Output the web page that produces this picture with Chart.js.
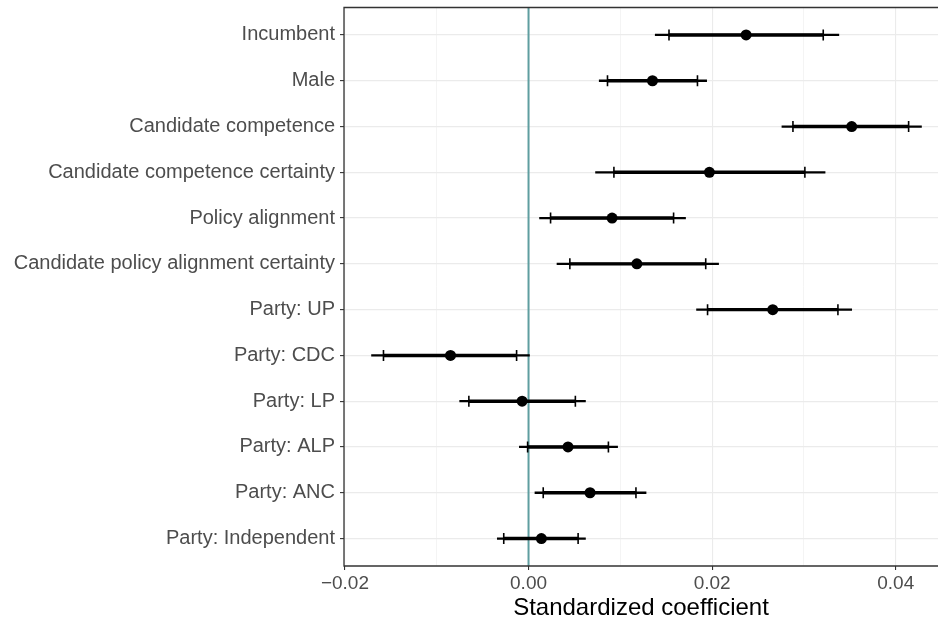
<!DOCTYPE html>
<html>
<head>
<meta charset="utf-8">
<script src="https://cdn.jsdelivr.net/npm/chart.js@4.4.1/dist/chart.umd.min.js"></script>
<style>
  html, body { margin: 0; padding: 0; background: #fff; overflow: hidden; }
  #wrap { width: 938px; height: 625px; }
</style>
</head>
<body>
<div id="wrap"><canvas id="coefPlot"></canvas></div>
<script>
const terms = [
  'Incumbent', 'Male', 'Candidate competence', 'Candidate competence certainty',
  'Policy alignment', 'Candidate policy alignment certainty', 'Party: UP',
  'Party: CDC', 'Party: LP', 'Party: ALP', 'Party: ANC', 'Party: Independent'
];
const estimate = [0.0237, 0.0135, 0.0352, 0.0197, 0.0091, 0.0118, 0.0266, -0.0085, -0.0007, 0.0043, 0.0067, 0.0014];
const inner_lo = [0.0153, 0.0086, 0.0288, 0.0093, 0.0024, 0.0045, 0.0195, -0.0158, -0.0065, -0.0001, 0.0016, -0.0027];
const inner_hi = [0.0321, 0.0184, 0.0414, 0.0301, 0.0158, 0.0193, 0.0337, -0.0013, 0.0051, 0.0087, 0.0117, 0.0054];
const outer_lo = [0.0138, 0.0077, 0.0276, 0.0073, 0.0012, 0.0031, 0.0183, -0.0171, -0.0075, -0.0010, 0.0007, -0.0034];
const outer_hi = [0.0338, 0.0194, 0.0428, 0.0323, 0.0171, 0.0207, 0.0352, 0.0001, 0.0062, 0.0097, 0.0128, 0.0062];
const xTicks = [-0.02, -0.01, 0.00, 0.01, 0.02, 0.03, 0.04];
const refValue = 0;

const idx = terms.map((t, i) => i);

// zero reference line + panel border (top and left; right edge is cut off)
const panelPlugin = {
  id: 'panel',
  beforeDatasetsDraw(chart) {
    const { ctx, chartArea, scales } = chart;
    const x0 = scales.x.getPixelForValue(refValue);
    ctx.save();
    ctx.strokeStyle = '#5F9EA0';
    ctx.lineWidth = 2;
    ctx.beginPath();
    ctx.moveTo(x0, chartArea.top);
    ctx.lineTo(x0, chartArea.bottom);
    ctx.stroke();
    ctx.restore();
  },
  afterDraw(chart) {
    const { ctx, chartArea } = chart;
    ctx.save();
    ctx.strokeStyle = '#333333';
    ctx.lineWidth = 1.3;
    ctx.beginPath();
    ctx.moveTo(chartArea.right + 2, chartArea.top);
    ctx.lineTo(chartArea.left, chartArea.top);
    ctx.lineTo(chartArea.left, chartArea.bottom);
    ctx.lineTo(chartArea.right + 2, chartArea.bottom);
    ctx.stroke();
    ctx.restore();
  }
};

new Chart(document.getElementById('coefPlot'), {
  type: 'bar',
  data: {
    datasets: [
      {
        type: 'bar',
        data: idx.map(i => ({ x: [outer_lo[i], outer_hi[i]], y: i })),
        backgroundColor: '#000',
        barThickness: 1.6,
        grouped: false,
        order: 3
      },
      {
        type: 'bar',
        data: idx.map(i => ({ x: [inner_lo[i], inner_hi[i]], y: i })),
        backgroundColor: '#000',
        barThickness: 2.8,
        grouped: false,
        order: 2
      },
      {
        type: 'scatter',
        data: idx.flatMap(i => [{ x: inner_lo[i], y: i }, { x: inner_hi[i], y: i }]),
        pointStyle: 'line',
        rotation: 90,
        radius: 5.5,
        borderColor: '#000',
        borderWidth: 1.6,
        hoverRadius: 5.5,
        order: 1
      },
      {
        type: 'scatter',
        data: idx.map(i => ({ x: estimate[i], y: i })),
        pointStyle: 'circle',
        radius: 5.5,
        backgroundColor: '#000',
        borderColor: '#000',
        borderWidth: 0,
        hoverRadius: 5.5,
        order: 0
      }
    ]
  },
  options: {
    indexAxis: 'y',
    responsive: true,
    maintainAspectRatio: false,
    animation: false,
    layout: { autoPadding: false, padding: { left: 0, right: 0, top: 7.5, bottom: 0 } },
    plugins: {
      legend: { display: false },
      tooltip: { enabled: false }
    },
    scales: {
      x: {
        type: 'linear',
        min: -0.0201,
        max: 0.0446,
        afterBuildTicks(scale) {
          scale.ticks = xTicks.map(v => ({ value: v }));
        },
        afterFit(scale) {
          scale.height = 59;
          scale.paddingLeft = 0;
          scale.paddingRight = 0;
        },
        grid: {
          color: '#EBEBEB',
          lineWidth: ctx => (Math.round(ctx.tick.value * 100) % 2 === 0 ? 1.1 : 0.55),
          tickColor: ctx => (Math.round(ctx.tick.value * 100) % 2 === 0 ? '#333333' : 'rgba(0,0,0,0)'),
          tickLength: 4,
          tickWidth: 1.1
        },
        border: { display: false },
        ticks: {
          autoSkip: false,
          maxRotation: 0,
          padding: 2,
          color: '#4D4D4D',
          font: { family: 'Liberation Sans', size: 19 },
          callback: v => {
            const r = Math.round(v * 100);
            if (r % 2 !== 0) return '';
            return (v < 0 ? '\u2212' : '') + Math.abs(v).toFixed(2);
          }
        },
        title: {
          display: true,
          text: 'Standardized coefficient',
          color: '#000',
          font: { family: 'Liberation Sans', size: 24 },
          padding: { top: 0, bottom: 2 }
        }
      },
      y: {
        type: 'linear',
        reverse: true,
        offset: false,
        min: -0.6,
        max: 11.6,
        afterBuildTicks(scale) {
          scale.ticks = idx.map(i => ({ value: i }));
        },
        afterFit(scale) {
          scale.width = 344;
          scale.paddingTop = 0;
          scale.paddingBottom = 0;
        },
        grid: {
          offset: false,
          color: '#EBEBEB',
          lineWidth: 1.2,
          tickColor: '#333333',
          tickLength: 4,
          tickWidth: 1.1
        },
        border: { display: false },
        ticks: {
          autoSkip: false,
          padding: 5,
          color: '#4D4D4D',
          font: { family: 'Liberation Sans', size: 20 },
          callback: v => terms[v]
        }
      }
    }
  },
  plugins: [panelPlugin]
});
</script>
</body>
</html>
